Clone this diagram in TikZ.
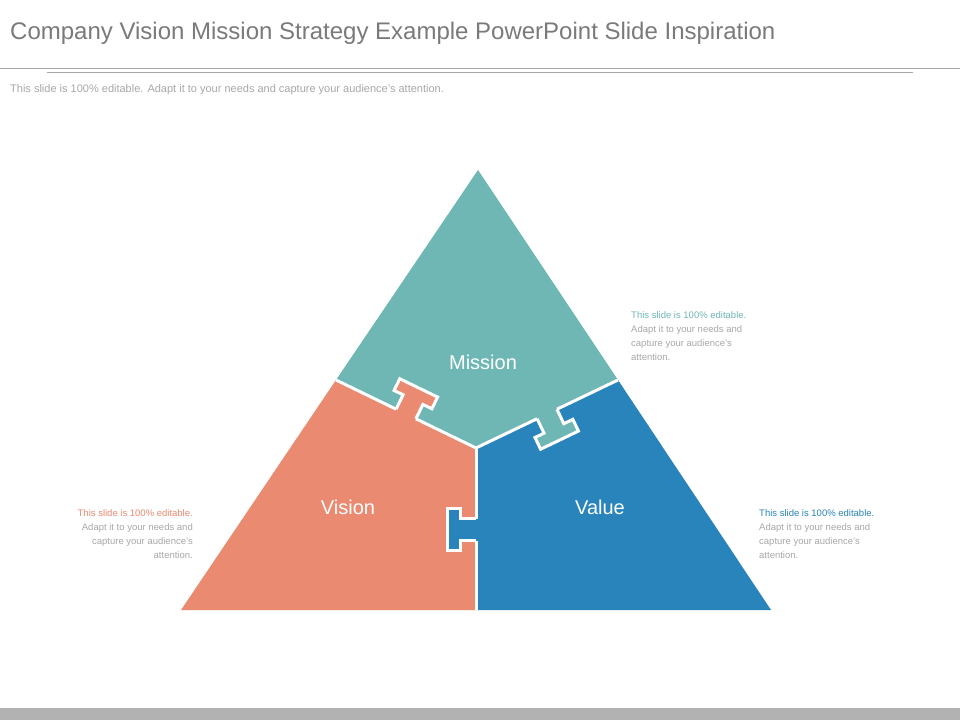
\documentclass[tikz,border=0pt]{standalone}
\usepackage{fontspec}
\setmainfont{Liberation Sans}
\definecolor{teal1}{HTML}{6FB7B5}
\definecolor{orng}{HTML}{EA8A70}
\definecolor{blu}{HTML}{2884BA}
\definecolor{gtxt}{HTML}{7A7A7A}
\definecolor{gsm}{HTML}{A8A8A8}
\newcommand{\puztab}[2]{%
  \fill[#2] (-11,-3) -- (-11,16) -- (-21,16) -- (-21,29) -- (21,29) -- (21,16) -- (11,16) -- (11,-3) -- cycle;
  \draw[cut] (-11,0) -- (-11,16) -- (-21,16) -- (-21,29) -- (21,29) -- (21,16) -- (11,16) -- (11,0);}
\begin{document}
\begin{tikzpicture}[x=1pt,y=1pt,
  cut/.style={white,line width=3pt,line join=miter},
  lbl/.style={white,font=\fontsize{20}{20}\selectfont},
  sm/.style={font=\fontsize{9.5}{14}\selectfont,gsm,align=left,anchor=north west,inner sep=0}]
\useasboundingbox (0,0) rectangle (960,720);
\fill[white] (0,0) rectangle (960,720);
\fill[gray!60] (0,0) rectangle (960,12);
\node[anchor=west,gtxt,font=\fontsize{24}{24}\selectfont,inner sep=0] (title) at (10,687) {Company Vision Mission Strategy Example PowerPoint Slide Inspiration};
\draw[gray!70,line width=0.8pt] (0,652) -- (960,652);
\draw[gray!70,line width=0.8pt] (47,648) -- (913,648);
\node[anchor=west,gsm,font=\fontsize{11}{11}\selectfont,inner sep=0] (sub) at (10,630) {This slide is 100\% editable. Adapt it to your needs and capture your audience's attention.};
% pieces
\coordinate (top) at (478,550);
\coordinate (bl) at (181,110);
\coordinate (br) at (771,110);
\coordinate (jl) at (336,340);
\coordinate (jr) at (618,340);
\coordinate (c) at (476,272);
\coordinate (cb) at (476,110);
\fill[teal1] (top) -- (jr) -- (c) -- (jl) -- cycle;
\fill[orng] (jl) -- (c) -- (cb) -- (bl) -- cycle;
\fill[blu] (jr) -- (br) -- (cb) -- (c) -- cycle;
\draw[cut] (jl) -- (c) -- (jr);
\draw[cut] (c) -- (cb);
\begin{scope}[shift={(406,306)},rotate=-25.9]\puztab{}{orng}\end{scope}
\begin{scope}[shift={(547,306)},rotate=205.6]\puztab{}{teal1}\end{scope}
\begin{scope}[shift={(476,190)},rotate=90]\puztab{}{blu}\end{scope}
\node[lbl] (mission) at (483,358) {Mission};
\node[lbl] (vision) at (348,213) {Vision};
\node[lbl] (value) at (600,213) {Value};
\node[sm] (t1) at (631,409) {\textcolor{teal1}{This slide is 100\% editable.}\\Adapt it to your needs and\\capture your audience's\\attention.};
\node[sm] (t2) at (759,211) {\textcolor{blu}{This slide is 100\% editable.}\\Adapt it to your needs and\\capture your audience's\\attention.};
\node[sm,align=right,anchor=north east] (t3) at (193,211) {\textcolor{orng}{This slide is 100\% editable.}\\Adapt it to your needs and\\capture your audience's\\attention.};
\end{tikzpicture}
\end{document}
